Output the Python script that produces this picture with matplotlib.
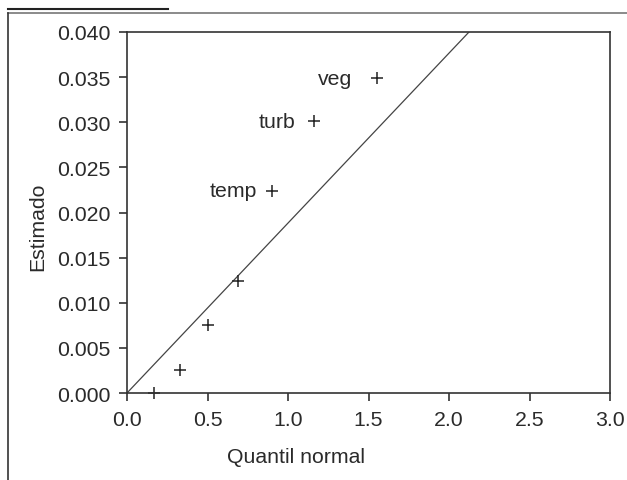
import matplotlib
matplotlib.use("Agg")
import matplotlib.pyplot as plt
from matplotlib.lines import Line2D

# estimated effects vs normal quantiles
quantil = [0.17, 0.33, 0.50, 0.69, 0.90, 1.16, 1.55]
estimado = [0.0000, 0.0025, 0.0075, 0.0124, 0.0224, 0.0301, 0.0349]
nomes = ["", "", "", "", "temp", "turb", "veg"]
inclinacao = 0.01883  # reference line slope
xticks = [0.0, 0.5, 1.0, 1.5, 2.0, 2.5, 3.0]
yticks = [0.000, 0.005, 0.010, 0.015, 0.020, 0.025, 0.030, 0.035, 0.040]
deslocamento = {"temp": -15, "turb": -18, "veg": -24}  # label offsets in px

plt.rcParams["font.family"] = ["Liberation Sans", "DejaVu Sans"]
FS = 15.3
TXT = "#2a2a2a"
W, H = 627, 481
fig = plt.figure(figsize=(W / 100, H / 100), dpi=100)
ax = fig.add_axes([127 / W, 1 - 394 / H, (610 - 127) / W, (394 - 33) / H])

ax.plot([0, 3.0], [0, inclinacao * 3.0], color="#444444", lw=0.9)
ax.plot(quantil, estimado, ls="none", marker="+", ms=8, mew=1.1,
        color="#222222", clip_on=False)
for x, y, s in zip(quantil, estimado, nomes):
    if s:
        ax.annotate(s, (x, y), xytext=(deslocamento[s], 0),
                    textcoords="offset pixels", ha="right", va="center",
                    fontsize=FS, color=TXT)

ax.set_xlim(0, 3.0)
ax.set_ylim(0, 0.040)
ax.set_xticks(xticks)
ax.set_yticks(yticks)
ax.set_xticklabels([f"{v:.1f}" for v in xticks])
ax.set_yticklabels([f"{v:.3f}" for v in yticks])
ax.tick_params(direction="out", length=6, width=1.2, color="#333333",
               labelsize=FS, labelcolor=TXT)
ax.tick_params(axis="x", pad=6)
ax.tick_params(axis="y", pad=6)
for sp in ax.spines.values():
    sp.set_color("#333333")
    sp.set_linewidth(1.2)

ax.set_xlabel("Quantil normal", fontsize=FS, color=TXT)
ax.xaxis.set_label_coords((296 - 127) / (610 - 127), -(448 - 394) / (394 - 33))
ax.set_ylabel("Estimado", fontsize=FS, color=TXT)
ax.yaxis.set_label_coords(-(127 - 47) / (610 - 127), (394 - 227) / (394 - 33))

# window frame lines
fig.add_artist(Line2D([8 / W, 1], [1 - 14 / H] * 2, color="#777777", lw=1.2))
fig.add_artist(Line2D([8 / W, 168 / W], [1 - 10 / H] * 2, color="#222222", lw=1.5))
fig.add_artist(Line2D([8 / W] * 2, [0, 1 - 14 / H], color="#333333", lw=1.2))

fig.savefig("out.png", dpi=100)
